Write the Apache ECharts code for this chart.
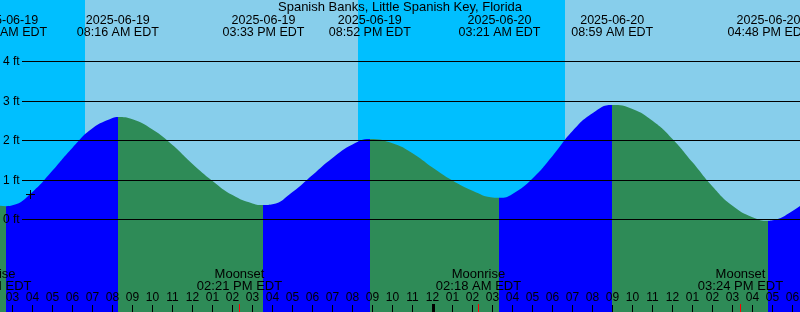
<!DOCTYPE html>
<html><head><meta charset="utf-8">
<script src="https://cdn.jsdelivr.net/npm/echarts@6/dist/echarts.min.js"></script>
<style>html,body{margin:0;padding:0;background:#fff;overflow:hidden}#c{width:800px;height:312px}</style>
</head><body><div id="c"></div>
<script>
// ---------- data ----------
const chartTitle = 'Spanish Banks, Little Spanish Key, Florida';
const viewStart = '2025-06-19 02:22:30';
const viewEnd = '2025-06-20 18:22:30';

// hourly tide heights (ft), 2025-06-19 02:00 .. 2025-06-20 19:00
const hourlyStart = '2025-06-19 02:00';
const hourlyHeights = [0.38, 0.36, 0.70, 1.24, 1.82, 2.31, 2.57, 2.54, 2.28, 1.89, 1.41, 0.98,
  0.62, 0.41, 0.39, 0.70, 1.13, 1.56, 1.90, 2.03, 1.93, 1.68,
  1.32, 0.99, 0.73, 0.56, 0.65, 1.04, 1.61, 2.24, 2.69, 2.90, 2.80, 2.50,
  2.04, 1.45, 0.84, 0.35, 0.06, -0.02, 0.22, 0.58];

// high / low tides
const extremeTimes = ['2025-06-19 02:41', '2025-06-19 08:16', '2025-06-19 15:33', '2025-06-19 20:52',
  '2025-06-20 03:21', '2025-06-20 08:59', '2025-06-20 16:48'];
const extremeHeights = [0.34, 2.60, 0.37, 2.04, 0.55, 2.90, -0.03];
const extremeDateLabels = ['2025-06-19', '2025-06-19', '2025-06-19', '2025-06-19', '2025-06-20', '2025-06-20', '2025-06-20'];
const extremeTimeLabels = ['02:41 AM EDT', '08:16 AM EDT', '03:33 PM EDT', '08:52 PM EDT',
  '03:21 AM EDT', '08:59 AM EDT', '04:48 PM EDT'];

// night periods (sunset -> sunrise)
const nightStarts = ['2025-06-18 20:16', '2025-06-19 20:17'];
const nightEnds = ['2025-06-19 06:38', '2025-06-20 06:38'];

// moon events
const moonEvents = ['Moonrise', 'Moonset', 'Moonrise', 'Moonset'];
const moonTimes = ['2025-06-19 01:49', '2025-06-19 14:21', '2025-06-20 02:18', '2025-06-20 15:24'];
const moonTimeLabels = ['01:49 AM EDT', '02:21 PM EDT', '02:18 AM EDT', '03:24 PM EDT'];

// axes
const firstHourTick = '2025-06-19 03:00';
const hourTickLabels = ['03','04','05','06','07','08','09','10','11','12','01','02','03','04','05','06','07','08','09','10','11',
  '12','01','02','03','04','05','06','07','08','09','10','11','12','01','02','03','04','05','06'];
const depthTicks = [0, 1, 2, 3, 4];
const depthTickLabels = ['0 ft', '1 ft', '2 ft', '3 ft', '4 ft'];
const depthMin = -2.34, depthMax = 5.56;

const nowMarker = ['2025-06-19 03:52:30', 0.63];

// ---------- helpers ----------
function ts(s) {
  const [d, t] = s.split(' ');
  const [Y, M, D] = d.split('-').map(Number);
  const [h, m, sec] = t.split(':').map(Number);
  return Date.UTC(Y, M - 1, D, h, m, sec || 0);
}
const HOUR = 3600000;
const FONT = '"Liberation Sans", Arial, Helvetica, sans-serif';
const tMin = ts(viewStart), tMax = ts(viewEnd);

// tide table: hourly readings + extremes (skip hourly readings very close to an extreme)
const extremeMs = extremeTimes.map(ts);
const tideData = [];
hourlyHeights.forEach((h, i) => {
  const t = ts(hourlyStart) + i * HOUR;
  if (extremeMs.every(e => Math.abs(e - t) > 10 * 60000)) tideData.push([t, h]);
});
extremeMs.forEach((t, i) => tideData.push([t, extremeHeights[i]]));
tideData.sort((a, b) => a[0] - b[0]);

// rising = blue, falling = green
const RISE = '#0000FF', FALL = '#2E8B57';
const pieces = [];
pieces.push({ lt: extremeMs[0], color: extremeHeights[0] < extremeHeights[1] ? FALL : RISE });
for (let i = 0; i < extremeMs.length - 1; i++) {
  pieces.push({ gte: extremeMs[i], lt: extremeMs[i + 1], color: extremeHeights[i] < extremeHeights[i + 1] ? RISE : FALL });
}
const nL = extremeMs.length;
pieces.push({ gte: extremeMs[nL - 1], color: extremeHeights[nL - 1] < extremeHeights[nL - 2] ? RISE : FALL });

const hourTickValues = hourTickLabels.map((_, i) => ts(firstHourTick) + i * HOUR);

const crisp = v => Math.round(v) + 0.5;
const crispY = v => Math.floor(v) + 0.5;

const option = {
  animation: false,
  title: {
    text: chartTitle, left: 'center', top: 1, padding: 0,
    textStyle: { fontSize: 13, fontWeight: 'normal', color: '#000', fontFamily: FONT }
  },
  grid: { left: 0, right: 0, top: 0, bottom: 0, show: true, backgroundColor: '#87CEEB', borderWidth: 0 },
  xAxis: {
    type: 'time', min: tMin, max: tMax,
    axisLine: { show: false }, splitLine: { show: false }, axisTick: { show: false }, axisLabel: { show: false }
  },
  yAxis: { type: 'value', min: depthMin, max: depthMax, show: false, splitLine: { show: false } },
  visualMap: { type: 'piecewise', show: false, dimension: 0, seriesIndex: 1, pieces: pieces },
  series: [
    { // night sky bands
      type: 'custom', z: 1, silent: true,
      data: nightStarts.map((s, i) => [ts(s), ts(nightEnds[i])]),
      encode: { x: [0, 1] },
      renderItem: (params, api) => {
        const x0 = Math.round(api.coord([api.value(0), 0])[0]);
        const x1 = Math.round(api.coord([api.value(1), 0])[0]);
        const cs = params.coordSys;
        return { type: 'rect', shape: { x: x0, y: cs.y, width: x1 - x0, height: cs.height }, style: { fill: '#00BFFF' } };
      }
    },
    { // tide
      type: 'line', z: 2, data: tideData, smooth: 0.5, showSymbol: false, symbol: 'none',
      lineStyle: { width: 0 }, areaStyle: { opacity: 1, origin: 'start' }
    },
    { // depth grid lines + labels
      type: 'custom', z: 3, silent: true,
      data: depthTicks.map((v, i) => [tMin, v, i]),
      encode: { x: 0, y: 1 },
      renderItem: (params, api) => {
        const y = crispY(api.coord([api.value(0), api.value(1)])[1]);
        const cs = params.coordSys;
        return { type: 'group', children: [
          { type: 'line', shape: { x1: 22, y1: y, x2: cs.x + cs.width, y2: y }, style: { stroke: '#000', lineWidth: 1 } },
          { type: 'text', x: 3, y: y + 0.5, style: { text: depthTickLabels[api.value(2)], align: 'left', verticalAlign: 'middle', fontSize: 12, fontFamily: FONT, fill: '#000' } }
        ] };
      }
    },
    { // high/low labels at the top
      type: 'custom', z: 4, silent: true,
      data: extremeMs.map((t, i) => [t, extremeHeights[i], i]),
      encode: { x: 0, y: 1 },
      renderItem: (params, api) => {
        const x = api.coord([api.value(0), 0])[0];
        const i = api.value(2);
        return { type: 'text', x: x, y: 26.5, style: { text: extremeDateLabels[i] + '\n' + extremeTimeLabels[i], align: 'center', verticalAlign: 'middle', lineHeight: 12, fontSize: 12.5, fontFamily: FONT, fill: '#000' } };
      }
    },
    { // moon events
      type: 'custom', z: 4, silent: true,
      data: moonTimes.map((t, i) => [ts(t), 0, i]),
      encode: { x: 0, y: 1 },
      renderItem: (params, api) => {
        const x = api.coord([api.value(0), 0])[0];
        const i = api.value(2);
        const cs = params.coordSys;
        const bottom = cs.y + cs.height;
        return { type: 'group', children: [
          { type: 'text', x: x, y: 280.5, style: { text: moonEvents[i] + '\n' + moonTimeLabels[i], align: 'center', verticalAlign: 'middle', lineHeight: 12.5, fontSize: 13, fontFamily: FONT, fill: '#000' } },
          { type: 'line', shape: { x1: crisp(x - 0.5), y1: bottom - 8, x2: crisp(x - 0.5), y2: bottom }, style: { stroke: '#FF0000', lineWidth: 1 } }
        ] };
      }
    },
    { // hour ticks + labels (time axis scale)
      type: 'custom', z: 5, silent: true,
      data: hourTickValues.map((v, i) => [v, 0, i]),
      encode: { x: 0, y: 1 },
      renderItem: (params, api) => {
        const x = api.coord([api.value(0), 0])[0];
        const i = api.value(2);
        const cs = params.coordSys;
        const bottom = cs.y + cs.height;
        const midnight = new Date(api.value(0)).getUTCHours() === 0;
        const tick = midnight
          ? { type: 'rect', shape: { x: Math.round(x) - 1, y: bottom - 8, width: 3, height: 8 }, style: { fill: '#000' } }
          : { type: 'line', shape: { x1: crisp(x - 0.5), y1: bottom - 7, x2: crisp(x - 0.5), y2: bottom }, style: { stroke: '#000', lineWidth: 1 } };
        return { type: 'group', children: [
          tick,
          { type: 'text', x: x, y: 298, style: { text: hourTickLabels[i], align: 'center', verticalAlign: 'middle', fontSize: 12, fontFamily: FONT, fill: '#000' } }
        ] };
      }
    },
    { // current-time marker
      type: 'custom', z: 5, silent: true,
      data: [[ts(nowMarker[0]), nowMarker[1]]],
      encode: { x: 0, y: 1 },
      renderItem: (params, api) => {
        const p = api.coord([api.value(0), api.value(1)]);
        const x = crisp(p[0] - 0.5), y = crispY(p[1]);
        return { type: 'group', children: [
          { type: 'line', shape: { x1: x - 4.5, y1: y, x2: x + 4.5, y2: y }, style: { stroke: '#000', lineWidth: 1 } },
          { type: 'line', shape: { x1: x, y1: y - 4.5, x2: x, y2: y + 4.5 }, style: { stroke: '#000', lineWidth: 1 } }
        ] };
      }
    }
  ]
};
const chart = echarts.init(document.getElementById('c'), null, { renderer: 'canvas' });
chart.setOption(option);
</script></body></html>
